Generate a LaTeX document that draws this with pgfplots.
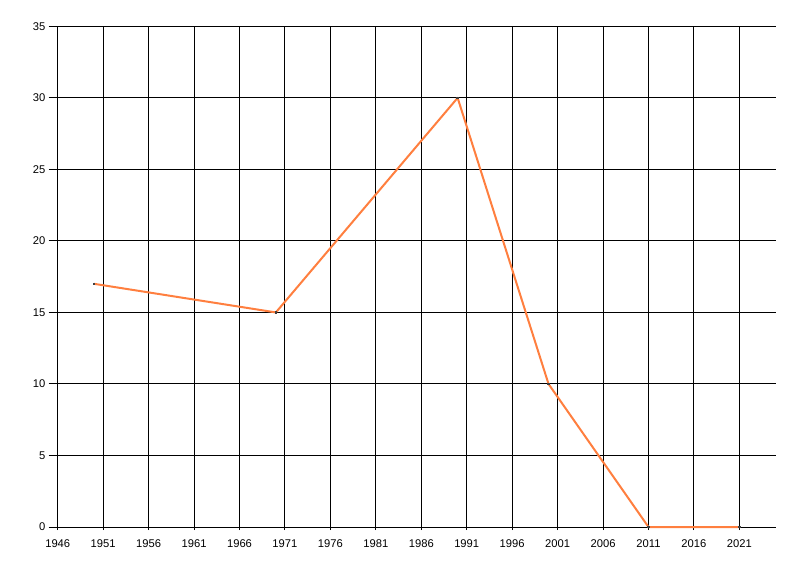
\documentclass[border=0pt]{standalone}
\usepackage{fontspec}
\setmainfont{Liberation Sans}
\usepackage{pgfplots}
\pgfplotsset{compat=1.18}
\definecolor{lineorange}{RGB}{255,127,63}
\begin{document}
\begin{tikzpicture}
\useasboundingbox (0,0) rectangle (600pt,432pt);
\begin{axis}[
    at={(43.3pt,36.75pt)}, anchor=south west,
    scale only axis,
    width=538.5pt, height=375.5pt,
    xmin=1946, xmax=2025,
    ymin=0, ymax=35,
    xtick={1946,1951,...,2021},
    ytick={0,5,...,35},
    xtick pos=bottom, ytick pos=left,
    axis line style={draw=none},
    grid=major,
    grid style={black, line width=0.75pt},
    tick align=outside,
    major tick length=6.75pt,
    tick style={black, line width=0.75pt},
    x tick style={/pgfplots/major tick length=2.25pt},
    ticklabel style={font=\fontsize{8.4}{10}\selectfont},
    /pgf/number format/assume math mode=true,
    /pgf/number format/1000 sep={},
    xticklabel style={yshift=1pt},
    yticklabel style={xshift=1pt},
    clip=false,
  ]
  \draw[black, line width=0.75pt] (axis cs:1946,0) -- (axis cs:2025,0);
  \addplot[lineorange, line width=1.5pt, line join=round,
    mark=square*, mark size=0.6pt, mark options={draw=darkgray, fill=darkgray, line width=0pt}]
    coordinates {
      (1950,17) (1970,15) (1990,30) (2000,10) (2011,0) (2021,0)
    };
\end{axis}
\end{tikzpicture}
\end{document}
